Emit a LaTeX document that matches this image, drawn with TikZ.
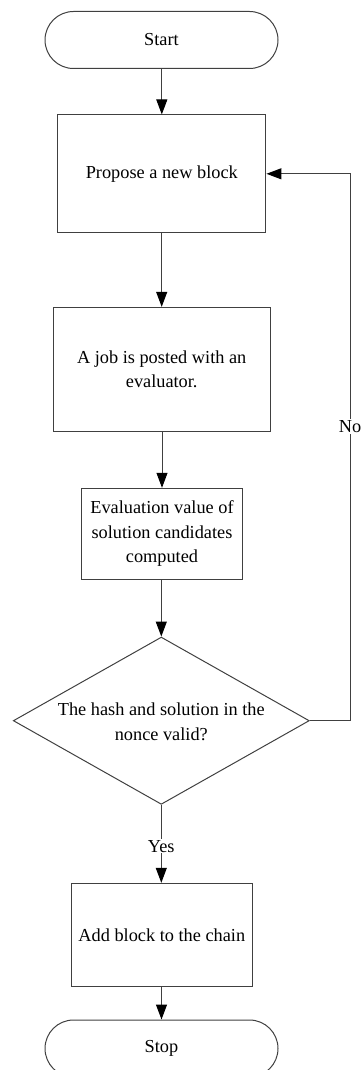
\documentclass[tikz,border=0pt]{standalone}
\usepackage{fontspec}
\setmainfont{Liberation Serif}
\usetikzlibrary{arrows.meta,shapes.geometric}

\tikzset{
  txt/.style={font=\fontsize{18.3}{24.6}\selectfont},
  base/.style={txt, draw=black!75, line width=1pt, align=center, inner sep=0pt},
  terminal/.style={base, rectangle, rounded corners=28.5pt,
    minimum width=233pt, minimum height=57pt},
  procbox/.style={base, rectangle},
  decision/.style={base, diamond, aspect=1.769,
    minimum width=296pt, minimum height=167.3pt},
  flow/.style={draw=black!75, line width=1pt,
    -{Triangle[length=15pt,width=11pt,color=black]}},
  edgelabel/.style={txt, fill=white, inner sep=1pt}
}

\begin{document}
\begin{tikzpicture}[x=1pt,y=-1pt]
  \useasboundingbox (0,0) rectangle (361,1070);

  \node[terminal] (start) at (161.5,40) {Start};
  \node[procbox, minimum width=208.3pt, minimum height=117.7pt]
    (propose) at (161.8,173.8) {Propose a new block};
  \node[procbox, minimum width=216.7pt, minimum height=123.7pt]
    (job) at (161.7,369.2) {A job is posted with an\\evaluator.};
  \node[procbox, minimum width=160.6pt, minimum height=91pt]
    (eval) at (162,533.8) {Evaluation value of\\solution candidates\\computed};
  \node[decision] (check) at (161.3,720.7) {};
  \node[txt, align=center]
    (checktext) at (161.3,721.5) {The hash and solution in the\\nonce valid?};
  \node[procbox, minimum width=181pt, minimum height=103.4pt]
    (add) at (161.8,935) {Add block to the chain};
  \node[terminal] (stop) at (161.5,1048.5) {Stop};

  \coordinate (loopbot) at (350,720.7);
  \coordinate (looptop) at (350,173.8);

  \draw[flow] (start.south -| propose.north) -- (propose.north);
  \draw[flow] (propose.south -| job.north) -- (job.north);
  \draw[flow] (job.south -| eval.north) -- (eval.north);
  \draw[flow] (eval.south -| check.north) -- (check.north);
  \draw[flow] (check.south) -- node[edgelabel, pos=0.53] {Yes} (check.south |- add.north);
  \draw[flow] (add.south -| stop.north) -- (stop.north);
  \draw[flow] (check.east) -- (loopbot) -- node[edgelabel, pos=0.538] {No} (looptop) -- (propose.east);
\end{tikzpicture}
\end{document}
